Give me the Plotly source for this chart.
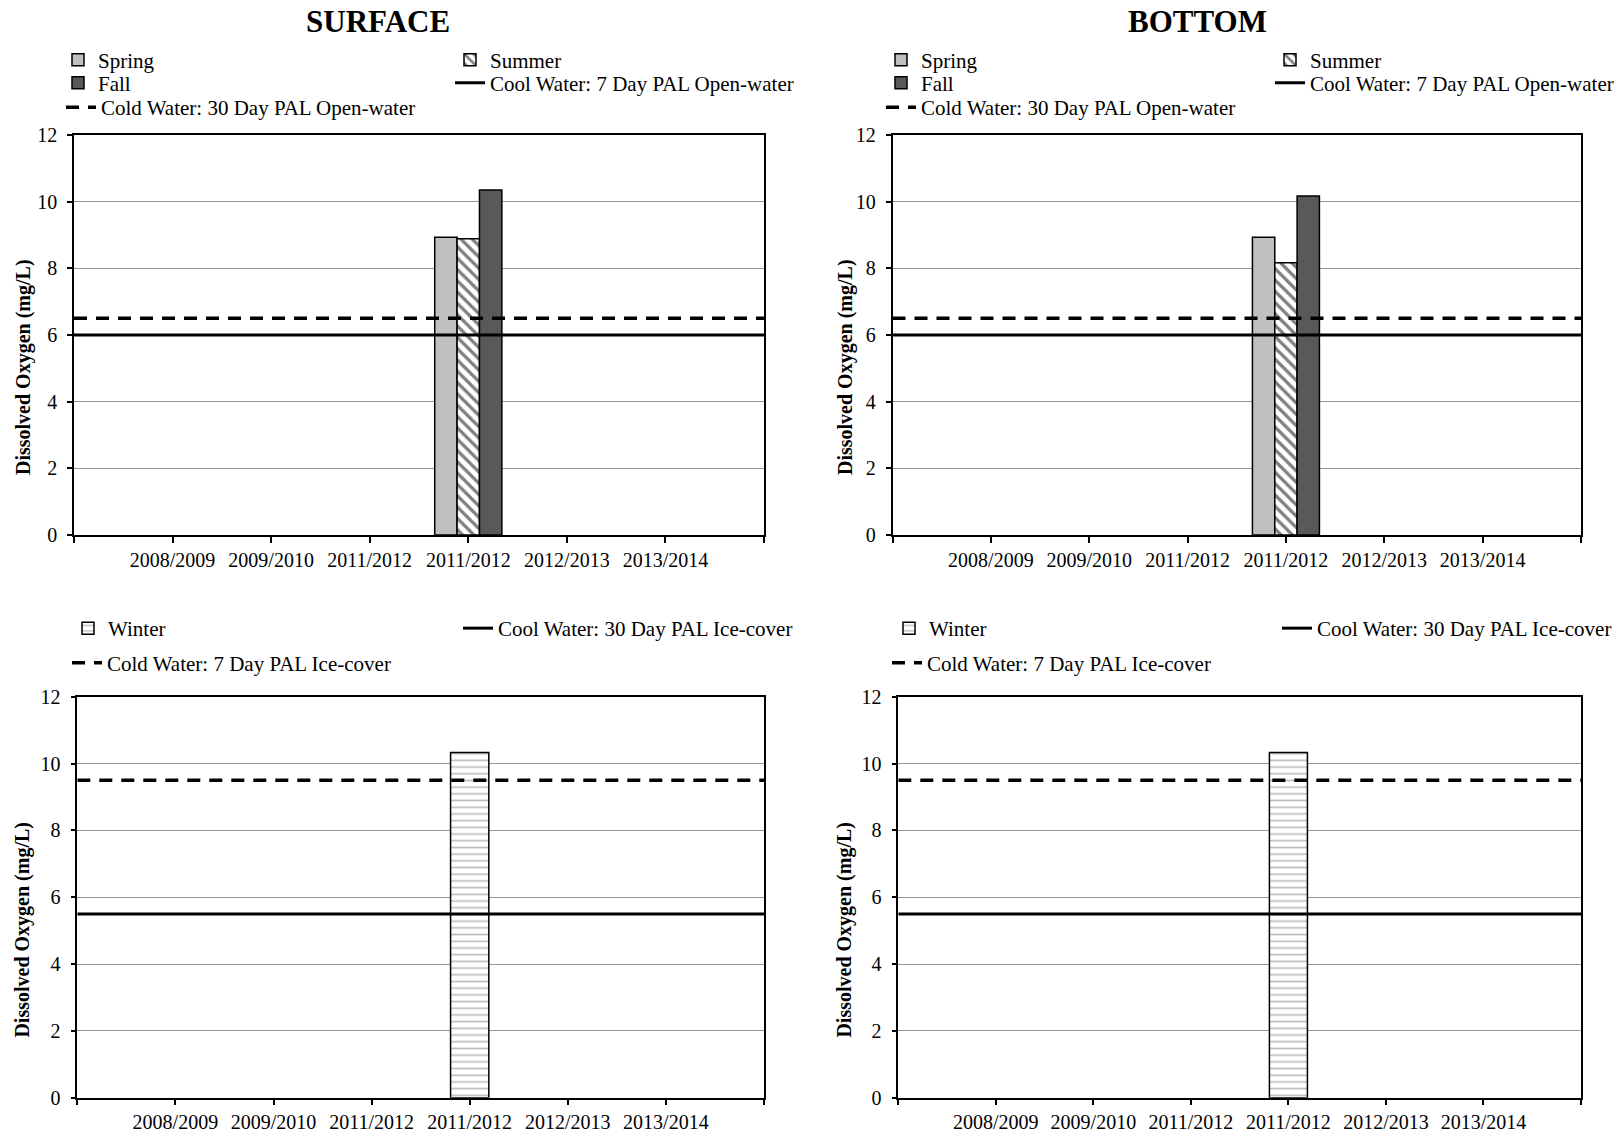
import plotly.graph_objects as go

# ---------------- data ----------------
years = ["2008/2009", "2009/2010", "2011/2012", "2011/2012", "2012/2013", "2013/2014"]

surface_spring = [None, None, None, 8.93, None, None]
surface_summer = [None, None, None, 8.89, None, None]
surface_fall = [None, None, None, 10.35, None, None]
surface_winter = [None, None, None, 10.33, None, None]

bottom_spring = [None, None, None, 8.93, None, None]
bottom_summer = [None, None, None, 8.17, None, None]
bottom_fall = [None, None, None, 10.17, None, None]
bottom_winter = [None, None, None, 10.33, None, None]

openwater_cool_7day = 6.0      # Cool Water: 7 Day PAL Open-water
openwater_cold_30day = 6.5     # Cold Water: 30 Day PAL Open-water
icecover_cool_30day = 5.5      # Cool Water: 30 Day PAL Ice-cover
icecover_cold_7day = 9.5       # Cold Water: 7 Day PAL Ice-cover

y_ticks = [0, 2, 4, 6, 8, 10, 12]

# ---------------- helpers ----------------
W, H = 1621, 1135
positions = list(range(1, len(years) + 1))
x_edges = [0, len(years) + 1]
FONT = "Liberation Serif"


def px_x(p):
    return p / W


def px_y(p):
    return 1 - p / H


BAR_W = 0.227
line_black = dict(color="black", width=1.5)
DASH = "13px,9px"

fig = go.Figure()


def add_openwater(xa, ya, spring, summer, fall, lg):
    fig.add_trace(go.Bar(x=positions, y=spring, name="Spring", xaxis=xa, yaxis=ya,
                         width=BAR_W, offset=-1.5 * BAR_W,
                         marker=dict(color="#c0c0c0", line=line_black),
                         legend=lg[0], showlegend=True))
    fig.add_trace(go.Bar(x=positions, y=summer, name="Summer", xaxis=xa, yaxis=ya,
                         width=BAR_W, offset=-0.5 * BAR_W,
                         marker=dict(color="white", line=line_black,
                                     pattern=dict(shape="\\", fgcolor="black", bgcolor="white",
                                                  size=8, solidity=0.4)),
                         legend=lg[1], showlegend=True))
    fig.add_trace(go.Bar(x=positions, y=fall, name="Fall", xaxis=xa, yaxis=ya,
                         width=BAR_W, offset=0.5 * BAR_W,
                         marker=dict(color="#595959", line=line_black),
                         legend=lg[2], showlegend=True))
    fig.add_trace(go.Scatter(x=x_edges, y=[openwater_cool_7day] * 2, mode="lines",
                             name="Cool Water: 7 Day PAL Open-water", xaxis=xa, yaxis=ya,
                             line=dict(color="black", width=3), legend=lg[3], showlegend=True))
    fig.add_trace(go.Scatter(x=x_edges, y=[openwater_cold_30day] * 2, mode="lines",
                             name="Cold Water: 30 Day PAL Open-water", xaxis=xa, yaxis=ya,
                             line=dict(color="black", width=3.5, dash=DASH), legend=lg[4],
                             showlegend=True))


def add_icecover(xa, ya, winter, lg):
    fig.add_trace(go.Bar(x=positions, y=winter, name="Winter", xaxis=xa, yaxis=ya,
                         width=0.39,
                         marker=dict(color="white", line=line_black,
                                     pattern=dict(shape="-", fgcolor="#7a7a7a", bgcolor="white",
                                                  size=6.7, solidity=0.25)),
                         legend=lg[0], showlegend=True))
    fig.add_trace(go.Scatter(x=x_edges, y=[icecover_cool_30day] * 2, mode="lines",
                             name="Cool Water: 30 Day PAL Ice-cover", xaxis=xa, yaxis=ya,
                             line=dict(color="black", width=3), legend=lg[1], showlegend=True))
    fig.add_trace(go.Scatter(x=x_edges, y=[icecover_cold_7day] * 2, mode="lines",
                             name="Cold Water: 7 Day PAL Ice-cover", xaxis=xa, yaxis=ya,
                             line=dict(color="black", width=3.5, dash=DASH), legend=lg[2],
                             showlegend=True))


add_openwater("x", "y", surface_spring, surface_summer, surface_fall,
              ["legend", "legend2", "legend3", "legend4", "legend5"])
add_openwater("x2", "y2", bottom_spring, bottom_summer, bottom_fall,
              ["legend6", "legend7", "legend8", "legend9", "legend10"])
add_icecover("x3", "y3", surface_winter, ["legend11", "legend12", "legend13"])
add_icecover("x4", "y4", bottom_winter, ["legend14", "legend15", "legend16"])

# ---------------- axes ----------------
tick_font = dict(family=FONT, size=20, color="black")


def xaxis(domain, anchor):
    return dict(domain=domain, anchor=anchor, range=x_edges,
                tickmode="array", tickvals=[x_edges[0]] + positions + [x_edges[1]],
                ticktext=[""] + years + [""],
                ticks="outside", ticklen=6, tickcolor="black", tickwidth=1.5,
                showline=True, linecolor="black", linewidth=1.5, mirror=True,
                showgrid=False, zeroline=False, tickfont=tick_font,
                ticklabelstandoff=0, automargin=False, fixedrange=True)


def yaxis(domain, anchor):
    return dict(domain=domain, anchor=anchor, range=[y_ticks[0], y_ticks[-1]],
                tickmode="array", tickvals=y_ticks,
                ticks="outside", ticklen=5, tickcolor="black", tickwidth=1.5,
                showline=True, linecolor="black", linewidth=1.5, mirror=True,
                showgrid=True, gridcolor="#969696", gridwidth=1, zeroline=False,
                tickfont=tick_font, ticklabelstandoff=6, automargin=False, fixedrange=True)


top_dom = [px_y(535), px_y(135)]
bot_dom = [px_y(1097.7), px_y(696.7)]

layout = dict(
    width=W, height=H, autosize=False,
    margin=dict(l=0, r=0, t=0, b=0, autoexpand=False),
    paper_bgcolor="white", plot_bgcolor="white",
    barmode="overlay", showlegend=True,
    font=dict(family=FONT, size=20, color="black"),
    xaxis=xaxis([px_x(74), px_x(764)], "y"),
    yaxis=yaxis(top_dom, "x"),
    xaxis2=xaxis([px_x(892.5), px_x(1581)], "y2"),
    yaxis2=yaxis(top_dom, "x2"),
    xaxis3=xaxis([px_x(77.3), px_x(764)], "y3"),
    yaxis3=yaxis(bot_dom, "x3"),
    xaxis4=xaxis([px_x(898.3), px_x(1581)], "y4"),
    yaxis4=yaxis(bot_dom, "x4"),
)


def legend(x_px, y_px):
    return dict(orientation="h", x=px_x(x_px), y=px_y(y_px), xanchor="left", yanchor="middle",
                bgcolor="rgba(0,0,0,0)", borderwidth=0, visible=True,
                font=dict(family=FONT, size=21, color="black"))


# one legend per entry, placed like the reference's two-column legend blocks
legend_pos = [
    (58, 60), (450, 60), (58, 83), (450, 83), (61, 107.5),          # surface open-water
    (881, 60), (1270, 60), (881, 83), (1270, 83), (881, 107.5),     # bottom open-water
    (68, 628.5), (458, 628.5), (67, 663),                          # surface ice-cover
    (889, 628.5), (1277, 628.5), (887, 663),                       # bottom ice-cover
]
for i, (lx, ly) in enumerate(legend_pos):
    key = "legend" if i == 0 else f"legend{i + 1}"
    layout[key] = legend(lx, ly)

fig.update_layout(**layout)

# ---------------- titles ----------------
title_font = dict(family=FONT, size=31, color="black")
ytitle_font = dict(family=FONT, size=20, color="black")
annots = [
    dict(text="<b>SURFACE</b>", x=px_x(378), y=px_y(21), font=title_font),
    dict(text="<b>BOTTOM</b>", x=px_x(1197.5), y=px_y(21), font=title_font),
]
for xp, yp in [(23, 367), (845, 367), (23, 929.6), (845, 929.6)]:
    annots.append(dict(text="<b>Dissolved Oxygen (mg/L)</b>", x=px_x(xp), y=px_y(yp),
                       textangle=-90, font=ytitle_font))
for a in annots:
    a.update(xref="paper", yref="paper", showarrow=False, xanchor="center", yanchor="middle")
fig.update_layout(annotations=annots)

fig.write_html("out.html")
